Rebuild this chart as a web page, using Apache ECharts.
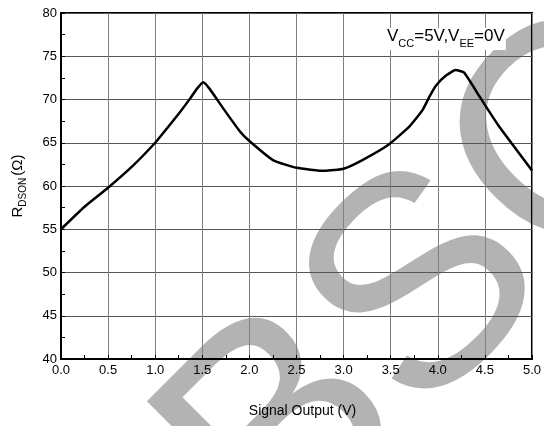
<!DOCTYPE html>
<html lang="en" style="height: 100%">
<head>
    <meta charset="UTF-8">
    <title>RDSON vs Signal Output</title>
    <script type="text/javascript" src="https://cdn.jsdelivr.net/npm/echarts@6/dist/echarts.min.js"></script>
</head>
<body style="height: 100%; margin: 0">
<div id="container" style="width: 544px; height: 426px"></div>
<script type="text/javascript">
    // signal output (V) and on-resistance (ohm)
    var vOut = [0, 0.25, 0.5, 0.75, 1.0, 1.12, 1.26, 1.37, 1.44, 1.51, 1.58, 1.72, 1.9, 2.0, 2.25, 2.5, 2.8, 3.0,
        3.2, 3.48, 3.7, 3.84, 3.91, 3.98, 4.09, 4.19, 4.28, 4.44, 4.65, 5.0];
    var rdson = [55, 57.6, 59.8, 62.2, 65.0, 66.6, 68.5, 70.1, 71.2, 72.0, 71.2, 69.0, 66.3, 65.2, 63.0, 62.1, 61.75, 62.0,
        63.0, 64.8, 66.9, 68.8, 70.3, 71.6, 72.8, 73.4, 73.1, 70.4, 66.9, 61.8];

    var points = [];
    for (var i = 0; i < vOut.length; i++) {
        points.push([vOut[i], rdson[i]]);
    }

    var font = 'Arial, "Liberation Sans", sans-serif';
    var myChart = echarts.init(document.getElementById('container'));
    myChart.setOption({
        animation: false,
        backgroundColor: '#fff',
        grid: {left: 61, right: 11, top: 13, bottom: 67, show: true, borderColor: '#000', borderWidth: 2, backgroundColor: 'transparent'},
        graphic: [{
            // watermark
            type: 'text',
            z: -10,
            x: 435, y: 288,
            rotation: Math.PI / 4,
            style: {text: 'BSC', fontSize: 300, fontFamily: font, fill: '#b3b3b3', align: 'center', verticalAlign: 'middle'}
        }, {
            type: 'text',
            z: 100,
            left: 386, top: 28,
            style: {
                text: '{v|V}{s|CC}{v|=5V,V}{s|EE}{v|=0V}',
                backgroundColor: '#fff',
                padding: [0, 1, 0, 1],
                rich: {
                    v: {fontSize: 17, fontFamily: font, fill: '#000', lineHeight: 22, verticalAlign: 'top'},
                    s: {fontSize: 11, fontFamily: font, fill: '#000', lineHeight: 12, verticalAlign: 'top', padding: [10, 0, 0, 0]}
                }
            }
        }],
        xAxis: {
            type: 'value', min: 0, max: 5, interval: 0.5,
            name: 'Signal Output (V)', nameLocation: 'middle', nameGap: 45,
            nameTextStyle: {fontSize: 14, fontFamily: font, color: '#000', padding: [0, 0, 0, 12]},
            axisLine: {lineStyle: {color: '#000', width: 2}},
            axisTick: {inside: true, length: 4, lineStyle: {color: '#000'}},
            minorTick: {show: true, splitNumber: 2, length: 4, lineStyle: {color: '#000'}},
            axisLabel: {fontSize: 13, fontFamily: font, color: '#000', margin: 5, formatter: function (v) { return v.toFixed(1); }},
            splitLine: {show: true, lineStyle: {color: '#808080', width: 1}}
        },
        yAxis: {
            type: 'value', min: 40, max: 80, interval: 5,
            name: '{r|R}{s|DSON}{r|(Ω)}', nameLocation: 'middle', nameGap: 31, nameRotate: 90,
            nameTextStyle: {
                rich: {
                    r: {fontSize: 15, fontFamily: font, color: '#000', lineHeight: 20, verticalAlign: 'top'},
                    s: {fontSize: 10, fontFamily: font, color: '#000', lineHeight: 12, verticalAlign: 'top', padding: [8, 2, 0, 0]}
                }
            },
            axisLine: {lineStyle: {color: '#000', width: 2}},
            axisTick: {inside: true, length: 4, lineStyle: {color: '#000'}},
            minorTick: {show: true, splitNumber: 2, length: 4, lineStyle: {color: '#000'}},
            axisLabel: {fontSize: 13, fontFamily: font, color: '#000', margin: 4},
            splitLine: {show: true, lineStyle: {color: '#555', width: 1}}
        },
        series: [{
            type: 'line',
            data: points,
            showSymbol: false,
            smooth: 0.15,
            lineStyle: {color: '#000', width: 2.5},
            z: 10
        }]
    });
</script>
</body>
</html>
